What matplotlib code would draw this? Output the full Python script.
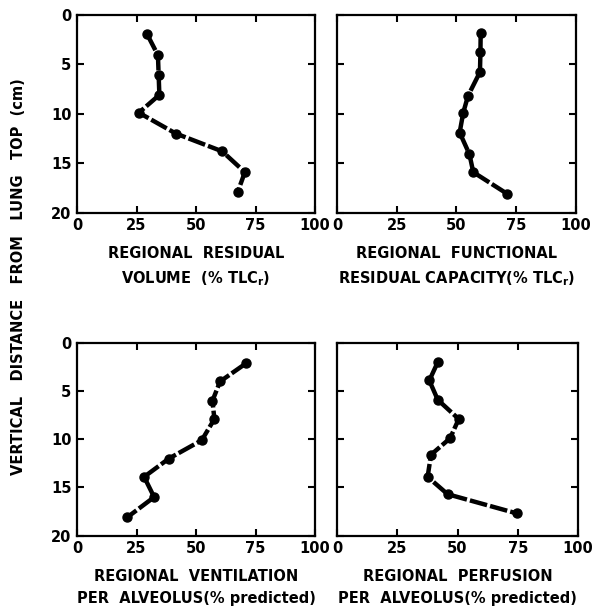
import matplotlib
matplotlib.use("Agg")
import matplotlib.pyplot as plt

plt.rcParams['font.family'] = ['DejaVu Sans']
plt.rcParams['font.weight'] = 'bold'
plt.rcParams['mathtext.fontset'] = 'dejavusans'
plt.rcParams['mathtext.default'] = 'bf'

# depth below lung top (cm) and regional values
rv_depth = [2.0, 4.1, 6.1, 8.1, 9.9, 12.0, 13.8, 15.9, 17.9]
rv_vals = [29.5, 34.0, 34.3, 34.6, 26.0, 41.5, 61.0, 70.5, 67.5]

frc_depth = [1.9, 3.8, 5.8, 8.2, 9.9, 11.9, 14.1, 15.9, 18.1]
frc_vals = [60.2, 60.1, 59.9, 54.9, 52.9, 51.4, 55.5, 57.1, 71.4]

vent_depth = [2.1, 4.0, 6.0, 7.9, 10.1, 12.0, 13.9, 16.0, 18.1]
vent_vals = [71.1, 60.1, 56.9, 57.7, 52.4, 38.6, 28.2, 32.4, 21.1]

perf_depth = [2.0, 3.9, 5.9, 7.9, 9.9, 11.6, 13.9, 15.7, 17.7]
perf_vals = [41.8, 38.3, 41.8, 50.5, 46.9, 39.0, 37.6, 45.9, 74.7]

x_ticks = [0, 25, 50, 75, 100]
y_ticks = [0, 5, 10, 15, 20]

panels = [
    (rv_vals, rv_depth, "REGIONAL  RESIDUAL\nVOLUME  (% TLC$_r$)", [0.127, 0.650, 0.393, 0.326]),
    (frc_vals, frc_depth, "REGIONAL  FUNCTIONAL\nRESIDUAL CAPACITY(% TLC$_r$)", [0.556, 0.650, 0.394, 0.326]),
    (vent_vals, vent_depth, "REGIONAL  VENTILATION\nPER  ALVEOLUS(% predicted)", [0.127, 0.119, 0.393, 0.317]),
    (perf_vals, perf_depth, "REGIONAL  PERFUSION\nPER  ALVEOLUS(% predicted)", [0.556, 0.119, 0.398, 0.317]),
]

fig = plt.figure(figsize=(6.06, 6.08), dpi=100)

for i, (vals, depth, label, pos) in enumerate(panels):
    ax = fig.add_axes(pos)
    ax.plot(vals, depth, color='black', linewidth=3.2, dashes=(4, 0.7),
            marker='o', markersize=6.5, solid_capstyle='butt')
    ax.set_xlim(0, 100)
    ax.set_ylim(20, 0)
    ax.set_xticks(x_ticks)
    ax.set_yticks(y_ticks)
    ax.tick_params(direction='in', top=True, right=True, length=5, width=1.5,
                   labelsize=10.5, pad=4)
    if i % 2 == 1:
        ax.set_yticklabels([])
    for sp in ax.spines.values():
        sp.set_linewidth(1.6)
    ax.set_xlabel(label, fontsize=10.5, fontweight='bold', labelpad=9, linespacing=1.6)

fig.text(0.03, 0.545, "VERTICAL   DISTANCE   FROM   LUNG   TOP  (cm)",
         rotation=90, ha='center', va='center', fontsize=10.5, fontweight='bold')

fig.savefig("out.png", dpi=100)
